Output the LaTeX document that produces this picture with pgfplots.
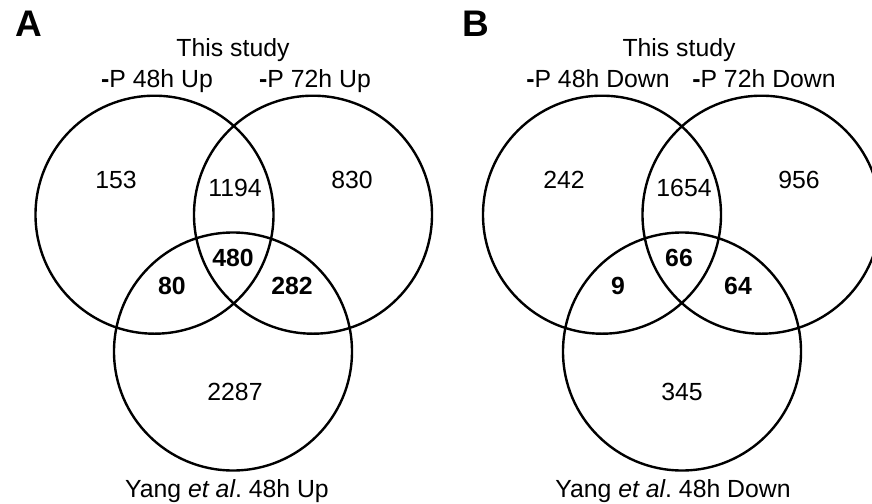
\documentclass[border=0pt]{standalone}
\usepackage{pgfplots}
\pgfplotsset{compat=1.18}
\usepackage{fontspec}
\setmainfont{Liberation Sans}
\tikzset{
  lab/.style={font=\fontsize{12.4}{14}\selectfont, anchor=base, inner sep=0pt},
  blab/.style={font=\fontsize{12.4}{14}\selectfont\bfseries, anchor=base, inner sep=0pt},
  plab/.style={font=\fontsize{18.5}{20}\selectfont\bfseries, anchor=base, inner sep=0pt},
}
\begin{document}
\begin{tikzpicture}
\begin{axis}[
  width=436pt, height=251.5pt, scale only axis,
  xmin=0, xmax=872, ymin=0, ymax=503, y dir=reverse,
  hide axis, clip=true,
]
% circles: centres (px) and radius 119px = 59.5pt
\addplot[only marks, mark=o, mark size=59.5pt, mark options={line width=1.2pt, black}] coordinates {
  (154.5,214.7) (313,214.7) (233,351.5)
  (602,214.7) (761.5,214.7) (682,351.5)
};
\coordinate (ll) at (axis cs:0,503);
\coordinate (ur) at (axis cs:872,0);
% Panel A
\node[plab] at (axis cs:28.5,36.7) {A};
\node[lab] at (axis cs:233,56) {This study};
\node[lab] at (axis cs:157,87.3) {\textbf{-}P 48h Up};
\node[lab] at (axis cs:315,87.3) {\textbf{-}P 72h Up};
\node[lab] at (axis cs:116,188.3) {153};
\node[lab] at (axis cs:235,196) {1194};
\node[lab] at (axis cs:352,188.3) {830};
\node[blab] at (axis cs:233,266.7) {480};
\node[blab] at (axis cs:172,294) {80};
\node[blab] at (axis cs:292,294) {282};
\node[lab] at (axis cs:235,400) {2287};
\node[lab] at (axis cs:227,497) {Yang \textit{et al}.\ 48h Up};
% Panel B
\node[plab] at (axis cs:476,36.7) {B};
\node[lab] at (axis cs:679,56) {This study};
\node[lab] at (axis cs:598,87.3) {\textbf{-}P 48h Down};
\node[lab] at (axis cs:764,87.3) {\textbf{-}P 72h Down};
\node[lab] at (axis cs:564,188.3) {242};
\node[lab] at (axis cs:684,196) {1654};
\node[lab] at (axis cs:799,188.3) {956};
\node[blab] at (axis cs:679,266.7) {66};
\node[blab] at (axis cs:618,294) {9};
\node[blab] at (axis cs:738,294) {64};
\node[lab] at (axis cs:682,400) {345};
\node[lab] at (axis cs:673,497) {Yang \textit{et al}.\ 48h Down};
\end{axis}
\pgfresetboundingbox
\path[use as bounding box] (ll) rectangle (ur);
\end{tikzpicture}
\end{document}
